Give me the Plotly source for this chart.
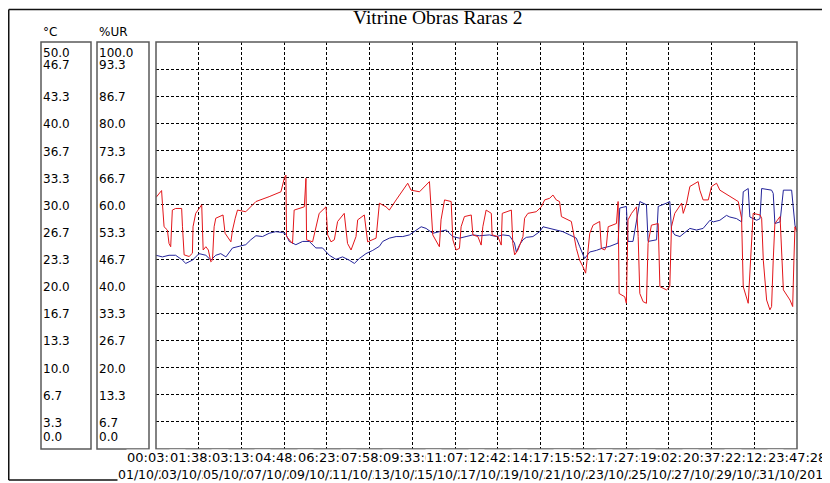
import plotly.graph_objects as go
import pandas as pd

# the page body has an 8px margin, so the figure is drawn 8px right/down of the window corner
OFF = 8
W, H = 830 - OFF, 483 - OFF

title_text = "Vitrine Obras Raras 2"
start_time = "2019-10-01 00:03:24"
end_time = "2019-10-31 23:47:28"

# %UR (red) series: elapsed days since start, relative humidity (%)
rh_days = [0.0, 0.23, 0.27, 0.31, 0.39, 0.55, 0.63, 0.71, 0.79, 0.95, 1.24, 1.28, 1.36, 1.60, 1.76, 1.79,
           1.92, 2.21, 2.28, 2.41, 2.53, 2.65, 2.73, 2.81, 2.89, 3.24, 3.34, 3.62, 3.70, 3.83, 3.94, 4.34,
           4.83, 5.47, 6.04, 6.20, 6.28, 6.31, 6.60, 6.68, 7.17, 7.25, 7.28, 7.57, 7.73, 7.89, 8.22, 8.30,
           8.46, 8.62, 8.78, 9.10, 9.26, 9.43, 9.67, 9.75, 10.07, 10.23, 10.64, 10.80, 11.12, 11.28, 11.61,
           11.93, 12.17, 12.33, 12.74, 13.22, 13.30, 13.38, 13.70, 13.78, 13.95, 14.27, 14.35, 14.51, 14.67,
           14.75, 14.91, 15.24, 15.32, 15.56, 15.72, 15.80, 15.96, 16.13, 16.21, 16.25, 16.53, 16.69, 16.74,
           17.18, 17.25, 17.34, 17.50, 17.74, 17.82, 17.98, 18.38, 18.63, 18.79, 19.03, 19.19, 19.35, 19.51,
           19.60, 20.08, 20.32, 20.48, 20.64, 20.77, 20.84, 20.97, 21.13, 21.45, 21.53, 21.69, 21.77, 21.86,
           22.26, 22.34, 22.39, 22.66, 22.74, 22.82, 22.99, 23.23, 23.31, 23.39, 23.55, 23.71, 23.79, 23.95,
           24.28, 24.36, 24.68, 24.84, 24.92, 25.08, 25.41, 25.49, 25.65, 25.81, 26.21, 26.29, 26.45, 26.70,
           26.86, 27.10, 27.26, 27.66, 27.99, 28.15, 28.31, 28.39, 28.63, 28.71, 28.87, 29.20, 29.28, 29.36,
           29.52, 29.68, 29.76, 29.84, 29.92, 30.17, 30.33, 30.65, 30.78, 30.84, 30.89, 30.97]
rh_values = [61.8, 63.2, 63.5, 60.4, 54.6, 53.8, 50.5, 49.7, 58.7, 59.1, 59.1, 54.6, 47.7, 47.3, 48.1, 54.6,
             57.9, 60.0, 48.9, 49.7, 48.9, 46.0, 46.4, 54.6, 56.7, 57.5, 53.0, 50.9, 53.8, 56.7, 58.7, 58.3,
             60.8, 62.0, 63.2, 66.5, 67.3, 52.2, 50.5, 58.7, 59.5, 66.5, 51.4, 50.9, 54.6, 57.9, 59.5, 52.6,
             50.9, 51.4, 55.9, 57.9, 50.5, 48.9, 52.2, 56.3, 57.5, 50.9, 51.8, 60.4, 59.5, 58.7, 61.2,
             63.6, 65.3, 63.6, 63.2, 65.7, 58.7, 52.6, 49.7, 56.3, 61.2, 60.8, 51.4, 48.9, 49.3,
             54.6, 57.1, 57.5, 52.6, 52.2, 50.1, 54.6, 58.7, 58.0, 57.9, 52.6, 52.2, 50.1, 57.9,
             58.7, 50.5, 47.7, 48.9, 52.2, 56.7, 57.9, 58.3, 59.5, 61.2, 61.6, 62.4, 61.2, 60.8,
             57.1, 55.9, 49.3, 46.4, 44.8, 43.2, 46.4, 53.0, 55.0, 55.9, 49.3, 48.9, 49.7, 54.6,
             55.4, 60.8, 38.2, 37.4, 35.8, 56.3, 57.9, 59.5, 52.2, 38.2, 36.2, 35.8, 50.5, 55.0,
             55.4, 39.9, 39.1, 39.9, 54.6, 57.9, 60.4, 57.9, 60.4, 64.5, 65.7, 63.6, 61.2, 61.2,
             64.5, 65.3, 63.6, 62.4, 61.2, 60.8, 56.7, 39.9, 35.8, 42.3, 57.9, 57.5, 56.7, 46.4,
             36.6, 34.2, 35.0, 46.4, 55.4, 57.1, 39.1, 36.6, 35.0, 46.4, 54.6, 53.4]

# Temperature (blue) series: elapsed days since start, degrees C
temp_days = [0.0, 0.31, 0.63, 0.95, 1.28, 1.44, 1.76, 2.08, 2.41, 2.65, 2.89, 3.13, 3.38, 3.70, 4.02, 4.34,
             4.58, 4.83, 5.15, 5.47, 5.79, 6.12, 6.28, 6.44, 6.76, 7.09, 7.41, 7.73, 8.05, 8.38, 8.70, 9.02,
             9.34, 9.59, 9.83, 10.15, 10.48, 10.80, 10.96, 11.28, 11.61, 11.93, 12.25, 12.58, 12.82, 13.06,
             13.38, 13.70, 14.03, 14.35, 14.67, 14.99, 15.32, 15.64, 16.12, 16.45, 16.77, 17.09, 17.33, 17.42,
             17.58, 17.74, 17.90, 18.22, 18.55, 18.71, 19.03, 19.35, 19.67, 20.00, 20.32, 20.48, 20.64, 20.72,
             20.97, 21.29, 21.61, 21.94, 22.34, 22.42, 22.74, 22.82, 23.06, 23.23, 23.39, 23.71, 23.79, 24.20,
             24.28, 24.68, 24.84, 24.92, 25.08, 25.33, 25.65, 25.81, 26.13, 26.45, 26.78, 26.94, 27.26, 27.58,
             27.74, 28.07, 28.31, 28.39, 28.63, 28.71, 29.04, 29.20, 29.28, 29.76, 29.84, 29.92, 30.17, 30.33,
             30.73, 30.81, 30.89, 30.97]
temp_values = [23.8, 23.6, 23.8, 23.8, 23.2, 22.8, 23.2, 24.0, 23.8, 23.2, 23.8, 24.0, 23.6, 24.7, 24.9, 25.1,
               25.7, 26.2, 26.1, 26.5, 26.7, 26.6, 26.4, 25.5, 25.1, 25.5, 25.5, 24.7, 24.7, 23.8, 23.3, 23.6,
               23.2, 22.8, 23.4, 24.0, 24.4, 24.9, 25.5, 25.9, 26.1, 26.1, 26.3, 26.9, 27.3, 27.1,
               26.5, 26.7, 26.9, 26.1, 25.9, 26.1, 26.3, 26.2, 26.3, 26.1, 26.3, 26.2, 25.3, 24.2,
               25.1, 25.7, 26.0, 26.1, 26.7, 27.3, 27.1, 26.9, 26.7, 26.3, 25.9, 24.9, 24.0, 23.4,
               24.2, 24.4, 24.7, 24.9, 25.3, 29.6, 29.8, 25.5, 25.5, 28.1, 30.4, 30.0, 25.5, 25.7,
               29.8, 30.2, 30.4, 26.9, 26.3, 26.1, 26.7, 27.1, 26.9, 27.1, 28.1, 27.9, 28.1, 28.7,
               28.5, 28.3, 27.9, 31.6, 32.0, 28.5, 28.1, 28.3, 32.0, 31.8, 31.4, 27.7, 27.9, 31.8,
               31.8, 29.4, 27.5, 26.9]

temp_tick_labels = ["50.0", "46.7", "43.3", "40.0", "36.7", "33.3", "30.0", "26.7",
                    "23.3", "20.0", "16.7", "13.3", "10.0", "6.7", "3.3", "0.0"]
rh_tick_labels = ["100.0", "93.3", "86.7", "80.0", "73.3", "66.7", "60.0", "53.3",
                  "46.7", "40.0", "33.3", "26.7", "20.0", "13.3", "6.7", "0.0"]
temp_unit = "°C"
rh_unit = "%UR"

n_int = 15
t0 = pd.Timestamp(start_time)
t1 = pd.Timestamp(end_time)
tick_times = pd.date_range(t0, t1, periods=n_int + 1)
time_labels = [t.strftime("%H:%M:%S") for t in tick_times]
date_labels = [t.strftime("%d/%m/%Y") for t in tick_times]
temp_grid = [50.0 * i / n_int for i in range(n_int + 1)]

rh_x = [t0 + pd.Timedelta(days=d) for d in rh_days]
temp_x = [t0 + pd.Timedelta(days=d) for d in temp_days]


def px(x):
    return (x - OFF) / W


def py(y):
    return 1 - (y - OFF) / H


PL, PR, PT, PB = 156, 797, 42, 449
FONT = "DejaVu Sans"
FSX = 13
FSD = 12.5
FSY = 12

fig = go.Figure()
fig.add_trace(go.Scatter(x=rh_x, y=rh_values, mode="lines", yaxis="y2",
                         line=dict(color="#e3161a", width=1), showlegend=False))
fig.add_trace(go.Scatter(x=temp_x, y=temp_values, mode="lines", yaxis="y",
                         line=dict(color="#23239a", width=1), showlegend=False))

shapes = []
border = "#5a5a5a"
for (x0, x1) in [(41, 91), (97, 149), (PL, PR)]:
    shapes.append(dict(type="rect", xref="paper", yref="paper", x0=px(x0), x1=px(x1),
                       y0=py(PB), y1=py(PT), line=dict(color=border, width=1.5), layer="above"))
# outer frame lines
frame = "#111111"
shapes.append(dict(type="line", xref="paper", yref="paper", x0=px(8.75), x1=px(822), y0=py(9.5), y1=py(9.5),
                   line=dict(color=frame, width=1.5)))
shapes.append(dict(type="line", xref="paper", yref="paper", x0=px(8.75), x1=px(8.75), y0=py(9.5), y1=py(480),
                   line=dict(color=frame, width=1.5)))
shapes.append(dict(type="line", xref="paper", yref="paper", x0=px(8.75), x1=px(119), y0=py(480), y1=py(480),
                   line=dict(color=frame, width=1.5)))
shapes.append(dict(type="line", xref="paper", yref="paper", x0=px(828.5), x1=px(828.5), y0=py(446), y1=py(483),
                   line=dict(color=frame, width=1.5)))

ann = []
ann.append(dict(text=title_text, xref="paper", yref="paper", x=px(437), y=py(18), showarrow=False,
                xanchor="center", yanchor="middle",
                font=dict(family="Liberation Serif", size=19.5, color="black")))
ann.append(dict(text=temp_unit, xref="paper", yref="paper", x=px(41), y=py(32), showarrow=False,
                xanchor="left", yanchor="middle", font=dict(family=FONT, size=12, color="black")))
ann.append(dict(text=rh_unit, xref="paper", yref="paper", x=px(97), y=py(32), showarrow=False,
                xanchor="left", yanchor="middle", font=dict(family=FONT, size=12, color="black")))

nlab = len(temp_tick_labels)
for i in range(nlab):
    val = 50.0 * (nlab - 1 - i) / n_int
    if i == 0:
        ys = -11
    elif i == 1:
        ys = 4
    elif i == nlab - 1:
        ys = 12
    else:
        ys = -1
    ann.append(dict(text=temp_tick_labels[i], xref="paper", yref="y", x=px(41), y=val, yshift=ys,
                    showarrow=False, xanchor="left", yanchor="middle",
                    font=dict(family=FONT, size=FSY, color="black")))
    ann.append(dict(text=rh_tick_labels[i], xref="paper", yref="y", x=px(97), y=val, yshift=ys,
                    showarrow=False, xanchor="left", yanchor="middle",
                    font=dict(family=FONT, size=FSY, color="black")))

for t, lab in zip(tick_times, time_labels):
    ann.append(dict(text=lab, xref="x", yref="paper", x=t, y=py(457), showarrow=False,
                    xanchor="center", yanchor="middle", bgcolor="white", borderpad=0,
                    font=dict(family=FONT, size=FSX, color="black")))
for t, lab in zip(tick_times, date_labels):
    ann.append(dict(text=lab, xref="x", yref="paper", x=t, y=py(474), showarrow=False,
                    xanchor="center", yanchor="middle", bgcolor="white", borderpad=0, xshift=-2,
                    font=dict(family=FONT, size=FSD, color="black")))

fig.update_layout(
    width=W, height=H, margin=dict(l=0, r=0, t=0, b=0),
    paper_bgcolor="white", plot_bgcolor="white",
    xaxis=dict(domain=[px(PL), px(PR)], range=[t0, t1], type="date",
               tickmode="array", tickvals=list(tick_times), showticklabels=False,
               showgrid=True, gridcolor="black", gridwidth=1, griddash="3px,2px",
               zeroline=False, showline=False, ticks=""),
    yaxis=dict(domain=[py(PB), py(PT)], range=[0, 50], tickmode="array", tickvals=temp_grid,
               showticklabels=False, showgrid=True, gridcolor="black", gridwidth=1,
               griddash="3px,2px", zeroline=False, showline=False, ticks=""),
    yaxis2=dict(overlaying="y", range=[0, 100], visible=False, showgrid=False),
    shapes=shapes, annotations=ann, showlegend=False,
)

fig.write_html("out.html")
